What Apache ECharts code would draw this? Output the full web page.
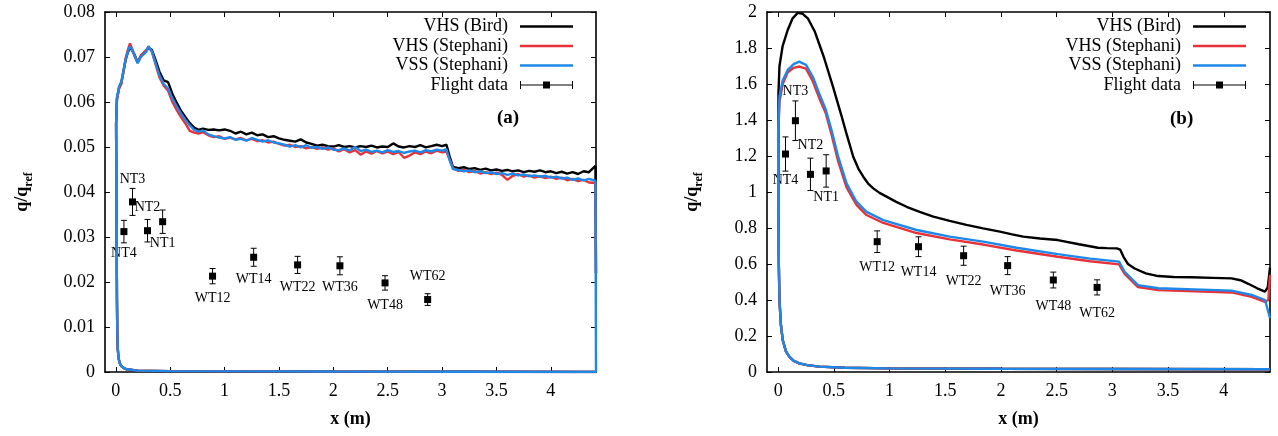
<!DOCTYPE html>
<html>
<head>
<meta charset="utf-8">
<script src="https://cdn.jsdelivr.net/npm/echarts@6/dist/echarts.min.js"></script>
<style>
  html, body { margin: 0; padding: 0; background: #fff; }
  #chart { width: 1278px; height: 436px; }
</style>
</head>
<body>
<div id="chart"></div>
<script>
// ---- data ----
const seriesNames = ['VHS (Bird)', 'VHS (Stephani)', 'VSS (Stephani)', 'Flight data'];
const xTicks = [0, 0.5, 1, 1.5, 2, 2.5, 3, 3.5, 4];

// panel (a): upper branch, shared x
const xA = [
  0.01, 0.03, 0.05, 0.07, 0.09, 0.11, 0.13, 0.15, 0.17, 0.20,
  0.23, 0.26, 0.28, 0.30, 0.33, 0.36, 0.40, 0.44, 0.48, 0.52,
  0.56, 0.60, 0.64, 0.68, 0.72, 0.76, 0.80, 0.85, 0.90, 0.95,
  1.00, 1.05, 1.10, 1.15, 1.20, 1.25, 1.30, 1.35, 1.40, 1.45,
  1.50, 1.55, 1.60, 1.65, 1.70, 1.75, 1.80, 1.85, 1.90, 1.95,
  2.00, 2.05, 2.10, 2.15, 2.20, 2.25, 2.30, 2.35, 2.40, 2.45,
  2.50, 2.55, 2.60, 2.65, 2.70, 2.75, 2.80, 2.85, 2.90, 2.95,
  3.00, 3.04, 3.07, 3.10, 3.15, 3.20, 3.25, 3.30, 3.35, 3.40,
  3.45, 3.50, 3.55, 3.60, 3.65, 3.70, 3.75, 3.80, 3.85, 3.90,
  3.95, 4.00, 4.05, 4.10, 4.15, 4.20, 4.25, 4.30, 4.35, 4.41, 4.415
];
const birdA = [
  0.0608, 0.0632, 0.0642, 0.0668, 0.0694, 0.0710, 0.0722, 0.0714, 0.0706, 0.0688,
  0.0703, 0.0710, 0.0714, 0.0720, 0.0716, 0.0697, 0.0668, 0.0648, 0.0644, 0.0618,
  0.0598, 0.0580, 0.0566, 0.0553, 0.0543, 0.0538, 0.0541, 0.0538, 0.0539, 0.0537,
  0.0539, 0.0536, 0.0530, 0.0534, 0.0528, 0.0532, 0.0526, 0.0528, 0.0522, 0.0524,
  0.0519, 0.0516, 0.0514, 0.0512, 0.0517, 0.0510, 0.0507, 0.0503, 0.0505, 0.0502,
  0.0501, 0.0504, 0.0500, 0.0502, 0.0499, 0.0502, 0.0500, 0.0503, 0.0499, 0.0501,
  0.0500, 0.0508, 0.0501, 0.0499, 0.0502, 0.0500, 0.0504, 0.0499, 0.0502, 0.0505,
  0.0502, 0.0505, 0.0478, 0.0456, 0.0453, 0.0455, 0.0451, 0.0453, 0.0449, 0.0452,
  0.0448, 0.0450, 0.0447, 0.0449, 0.0446, 0.0448, 0.0444, 0.0447, 0.0445, 0.0448,
  0.0444, 0.0446, 0.0442, 0.0445, 0.0441, 0.0444, 0.0440, 0.0446, 0.0444, 0.0458, 0.022
];
const vhsA = [
  0.0605, 0.0630, 0.0640, 0.0668, 0.0697, 0.0716, 0.0730, 0.0718, 0.0703, 0.0688,
  0.0702, 0.0710, 0.0716, 0.0722, 0.0714, 0.0688, 0.0655, 0.0636, 0.0625, 0.0600,
  0.0582, 0.0566, 0.0552, 0.0536, 0.0532, 0.0530, 0.0533, 0.0526, 0.0522, 0.0524,
  0.0518, 0.0521, 0.0517, 0.0520, 0.0515, 0.0518, 0.0513, 0.0515, 0.0510, 0.0512,
  0.0507, 0.0503, 0.0505, 0.0500, 0.0502, 0.0497, 0.0500, 0.0496, 0.0499, 0.0494,
  0.0497, 0.0490, 0.0495, 0.0488, 0.0493, 0.0483, 0.0490, 0.0485, 0.0491, 0.0486,
  0.0490, 0.0484, 0.0489, 0.0476, 0.0481, 0.0488, 0.0484, 0.0490, 0.0486, 0.0492,
  0.0488, 0.0490, 0.0472, 0.0453, 0.0447, 0.0449, 0.0444, 0.0447, 0.0441, 0.0444,
  0.0440, 0.0443, 0.0438, 0.0427, 0.0436, 0.0440, 0.0434, 0.0437, 0.0432, 0.0435,
  0.0431, 0.0434, 0.0429, 0.0432, 0.0426, 0.0429, 0.0424, 0.0427, 0.0421, 0.0420, 0.022
];
const vssA = [
  0.0610, 0.0635, 0.0645, 0.0670, 0.0695, 0.0712, 0.0724, 0.0716, 0.0705, 0.0686,
  0.0700, 0.0707, 0.0712, 0.0724, 0.0712, 0.0690, 0.0660, 0.0640, 0.0630, 0.0608,
  0.0590, 0.0574, 0.0560, 0.0548, 0.0538, 0.0534, 0.0537, 0.0528, 0.0524, 0.0521,
  0.0519, 0.0522, 0.0516, 0.0518, 0.0514, 0.0520, 0.0516, 0.0512, 0.0515, 0.0510,
  0.0508, 0.0505, 0.0501, 0.0504, 0.0499, 0.0504, 0.0498, 0.0500, 0.0496, 0.0499,
  0.0494, 0.0493, 0.0497, 0.0492, 0.0500, 0.0491, 0.0494, 0.0489, 0.0492, 0.0488,
  0.0493, 0.0489, 0.0491, 0.0487, 0.0490, 0.0492, 0.0488, 0.0493, 0.0490, 0.0494,
  0.0492, 0.0495, 0.0470, 0.0451, 0.0449, 0.0446, 0.0448, 0.0444, 0.0446, 0.0442,
  0.0444, 0.0440, 0.0442, 0.0438, 0.0441, 0.0437, 0.0439, 0.0435, 0.0437, 0.0434,
  0.0436, 0.0432, 0.0434, 0.0430, 0.0432, 0.0427, 0.0430, 0.0426, 0.0429, 0.0425, 0.0
];
// panel (a): lower branch, from the rear end back to the nose
const lowA = [
  [4.415, 0.0], [2.0, 0.0001], [0.5, 0.0002], [0.2, 0.0003], [0.1, 0.0006],
  [0.07, 0.0009], [0.05, 0.0013], [0.037, 0.0019], [0.025, 0.003], [0.018, 0.005],
  [0.013, 0.009], [0.01, 0.016], [0.007, 0.03], [0.004, 0.045], [0.002, 0.055]
];

// panel (b)
const birdB = [
  [0.003, 1.55], [0.012, 1.70], [0.04, 1.81], [0.086, 1.90], [0.13, 1.965], [0.176, 1.995],
  [0.22, 1.99], [0.266, 1.965], [0.33, 1.89], [0.41, 1.75], [0.49, 1.59], [0.57, 1.42],
  [0.62, 1.31], [0.674, 1.196], [0.72, 1.13], [0.764, 1.085], [0.81, 1.045], [0.854, 1.02],
  [0.91, 0.995], [0.973, 0.974], [1.06, 0.945], [1.153, 0.918], [1.27, 0.89], [1.393, 0.863],
  [1.54, 0.84], [1.69, 0.817], [1.84, 0.798], [1.99, 0.78], [2.1, 0.765], [2.2, 0.752],
  [2.35, 0.742], [2.51, 0.733], [2.7, 0.71], [2.87, 0.69], [2.95, 0.688], [3.04, 0.687],
  [3.07, 0.68], [3.1, 0.64], [3.14, 0.60], [3.2, 0.575], [3.3, 0.548], [3.41, 0.533],
  [3.55, 0.528], [3.71, 0.526], [3.9, 0.523], [4.07, 0.52], [4.15, 0.51], [4.22, 0.49],
  [4.3, 0.465], [4.37, 0.446], [4.395, 0.47], [4.415, 0.58]
];
const vhsB = [
  [0.0, 1.30], [0.012, 1.50], [0.041, 1.60], [0.086, 1.665], [0.14, 1.69], [0.19, 1.697],
  [0.25, 1.685], [0.311, 1.615], [0.37, 1.52], [0.426, 1.44], [0.479, 1.32], [0.539, 1.17],
  [0.614, 1.025], [0.703, 0.928], [0.793, 0.872], [0.943, 0.828], [1.243, 0.772], [1.54, 0.737],
  [1.84, 0.708], [2.14, 0.675], [2.51, 0.64], [2.8, 0.615], [3.06, 0.598], [3.11, 0.545],
  [3.23, 0.472], [3.41, 0.455], [4.07, 0.442], [4.25, 0.418], [4.37, 0.39], [4.4, 0.40], [4.415, 0.54]
];
const vssB = [
  [0.0, 1.33], [0.012, 1.53], [0.041, 1.62], [0.086, 1.678], [0.14, 1.71], [0.19, 1.724],
  [0.25, 1.706], [0.311, 1.64], [0.37, 1.545], [0.426, 1.46], [0.479, 1.344], [0.539, 1.196],
  [0.614, 1.048], [0.703, 0.946], [0.793, 0.89], [0.943, 0.844], [1.243, 0.789], [1.54, 0.752],
  [1.84, 0.724], [2.14, 0.69], [2.51, 0.655], [2.8, 0.63], [3.06, 0.613], [3.11, 0.557],
  [3.23, 0.483], [3.41, 0.465], [4.07, 0.452], [4.25, 0.428], [4.37, 0.40], [4.415, 0.30]
];
const lowB = [
  [4.415, 0.015], [3.0, 0.017], [2.0, 0.018], [1.0, 0.02], [0.6, 0.024], [0.37, 0.03],
  [0.26, 0.038], [0.19, 0.048], [0.14, 0.062], [0.1, 0.085], [0.07, 0.115], [0.041, 0.178],
  [0.025, 0.26], [0.012, 0.40], [0.006, 0.6], [0.002, 0.95]
];

// flight data: [x, value, error]
const flightLabels = ['NT4', 'NT3', 'NT2', 'NT1', 'WT12', 'WT14', 'WT22', 'WT36', 'WT48', 'WT62'];
const flightA = [
  [0.074, 0.0312, 0.0025], [0.153, 0.0378, 0.003], [0.291, 0.0314, 0.0025], [0.43, 0.0334, 0.0026],
  [0.889, 0.0213, 0.0017], [1.267, 0.0255, 0.002], [1.671, 0.0238, 0.0019], [2.06, 0.0236, 0.002],
  [2.475, 0.0198, 0.0016], [2.867, 0.0161, 0.0013]
];
const flightB = [
  [0.066, 1.211, 0.095], [0.155, 1.396, 0.11], [0.29, 1.098, 0.09], [0.431, 1.117, 0.09],
  [0.889, 0.724, 0.06], [1.26, 0.696, 0.055], [1.665, 0.646, 0.053], [2.06, 0.591, 0.05],
  [2.47, 0.511, 0.044], [2.863, 0.47, 0.042]
];
const labelsAboveA = ['NT3', 'NT2', 'WT62'];
const labelsAboveB = ['NT3', 'NT2'];

// ---- chart ----
const FONT = '"Liberation Serif", "DejaVu Serif", serif';
const colors = ['#000000', '#e8323a', '#1e88e8'];

const pairs = (xs, ys) => xs.map((x, i) => [x, ys[i]]);

function frameAxes(gridIndex, isY, opt) {
  const common = {
    gridIndex: gridIndex,
    type: 'value',
    axisLine: { onZero: false, lineStyle: { color: '#000', width: 1.6 } },
    splitLine: { show: false }
  };
  const main = Object.assign({}, common, opt, {
    axisTick: { inside: true, length: 5, lineStyle: { color: '#000', width: 1 } },
    axisLabel: { color: '#000', fontFamily: FONT, fontSize: 18, margin: 10 }
  });
  const mirror = Object.assign({}, common, {
    min: opt.min, max: opt.max, interval: opt.interval,
    position: isY ? 'right' : 'top',
    axisTick: { inside: true, length: 5, lineStyle: { color: '#000', width: 1 } },
    axisLabel: { show: false }
  });
  if (!isY) {
    main.axisTick.customValues = xTicks;
    main.axisLabel.customValues = xTicks;
    mirror.axisTick.customValues = xTicks;
  }
  main.position = isY ? 'left' : 'bottom';
  return [main, mirror];
}

const xName = {
  name: 'x (m)', nameLocation: 'middle', nameGap: 38,
  nameTextStyle: { fontFamily: FONT, fontSize: 18, fontWeight: 'bold', color: '#000' }
};
const yName = {
  name: '{m|q/q}{s|ref}', nameLocation: 'middle', nameRotate: 90,
  nameTextStyle: {
    fontFamily: FONT, fontSize: 18, fontWeight: 'bold', color: '#000',
    rich: {
      m: { fontFamily: FONT, fontSize: 18, fontWeight: 'bold', lineHeight: 26, verticalAlign: 'middle' },
      s: { fontFamily: FONT, fontSize: 12, fontWeight: 'bold', lineHeight: 26, verticalAlign: 'bottom' }
    }
  }
};

const xAxes = [
  ...frameAxes(0, false, Object.assign({ min: -0.1, max: 4.415 }, xName)),
  ...frameAxes(1, false, Object.assign({ min: -0.1, max: 4.415 }, xName))
];
const yAxes = [
  ...frameAxes(0, true, Object.assign({ min: 0, max: 0.08, interval: 0.01, nameGap: 70 }, yName)),
  ...frameAxes(1, true, Object.assign({ min: 0, max: 2, interval: 0.2, nameGap: 62 }, yName))
];

function lineSeries(name, data, color, axisIdx) {
  return {
    name: name, type: 'line', data: data,
    xAxisIndex: axisIdx, yAxisIndex: axisIdx,
    symbol: 'none', smooth: false,
    lineStyle: { color: color, width: 2.4 },
    itemStyle: { color: color },
    animation: false
  };
}

function flightSeries(data, above, axisIdx, offUp, offDown) {
  return {
    name: 'Flight data', type: 'custom',
    xAxisIndex: axisIdx, yAxisIndex: axisIdx,
    itemStyle: { color: '#000' },
    data: data,
    encode: { x: 0, y: 1 },
    animation: false,
    renderItem: function (params, api) {
      const x = api.value(0), y = api.value(1), e = api.value(2);
      const c = api.coord([x, y]);
      const t = api.coord([x, y + e]);
      const b = api.coord([x, y - e]);
      const lab = flightLabels[params.dataIndex];
      const up = above.indexOf(lab) >= 0;
      const ln = { stroke: '#000', lineWidth: 1 };
      return {
        type: 'group',
        children: [
          { type: 'line', shape: { x1: c[0], y1: t[1], x2: c[0], y2: b[1] }, style: ln },
          { type: 'line', shape: { x1: c[0] - 3, y1: t[1], x2: c[0] + 3, y2: t[1] }, style: ln },
          { type: 'line', shape: { x1: c[0] - 3, y1: b[1], x2: c[0] + 3, y2: b[1] }, style: ln },
          { type: 'rect', shape: { x: c[0] - 3.5, y: c[1] - 3.5, width: 7, height: 7 }, style: { fill: '#000' } },
          {
            type: 'text',
            style: {
              text: lab, x: c[0], y: c[1] + (up ? -offUp : offDown),
              align: 'center', verticalAlign: 'middle',
              fontFamily: FONT, fontSize: 14, fill: '#000'
            }
          }
        ]
      };
    }
  };
}

const lineIcon = 'path://M0,0h53v2.4h-53z';
const flightIcon = 'path://M0,1h1v8h-1z M0,4.5h53v1h-53z M52,1h1v8h-1z M23,1.5h7v7h-7z';

function legendAt(right) {
  return {
    orient: 'vertical', right: right, top: 17, padding: 0,
    align: 'right', itemWidth: 53, itemHeight: 10, itemGap: 0.5,
    symbolKeepAspect: true,
    selectedMode: false,
    textStyle: { fontFamily: FONT, fontSize: 18, color: '#000', lineHeight: 19, padding: [0, 7, 0, 0] },
    data: [
      { name: seriesNames[0], icon: lineIcon },
      { name: seriesNames[1], icon: lineIcon },
      { name: seriesNames[2], icon: lineIcon },
      { name: seriesNames[3], icon: flightIcon }
    ]
  };
}

const option = {
  backgroundColor: '#fff',
  animation: false,
  grid: [
    { left: 105, top: 12, width: 491, height: 360 },
    { left: 767, top: 12, width: 503, height: 360 }
  ],
  xAxis: xAxes,
  yAxis: yAxes,
  legend: [legendAt(705), legendAt(32)],
  graphic: [
    { type: 'text', left: 497, top: 109, style: { text: '(a)', fontFamily: FONT, fontSize: 19, fontWeight: 'bold', fill: '#000' } },
    { type: 'text', left: 1170, top: 110, style: { text: '(b)', fontFamily: FONT, fontSize: 19, fontWeight: 'bold', fill: '#000' } }
  ],
  series: [
    lineSeries(seriesNames[0], lowA.concat(pairs(xA, birdA)), colors[0], 0),
    lineSeries(seriesNames[1], lowA.concat(pairs(xA, vhsA)), colors[1], 0),
    lineSeries(seriesNames[2], lowA.concat(pairs(xA, vssA)), colors[2], 0),
    flightSeries(flightA, labelsAboveA, 0, 23, 22),
    lineSeries(seriesNames[0], lowB.concat(birdB), colors[0], 2),
    lineSeries(seriesNames[1], lowB.concat(vhsB), colors[1], 2),
    lineSeries(seriesNames[2], lowB.concat(vssB), colors[2], 2),
    flightSeries(flightB, labelsAboveB, 2, 29, 26)
  ]
};

// xAxis/yAxis index 2 are the main axes of the second grid, 3 its mirrors
const chart = echarts.init(document.getElementById('chart'));
chart.setOption(option);
</script>
</body>
</html>
